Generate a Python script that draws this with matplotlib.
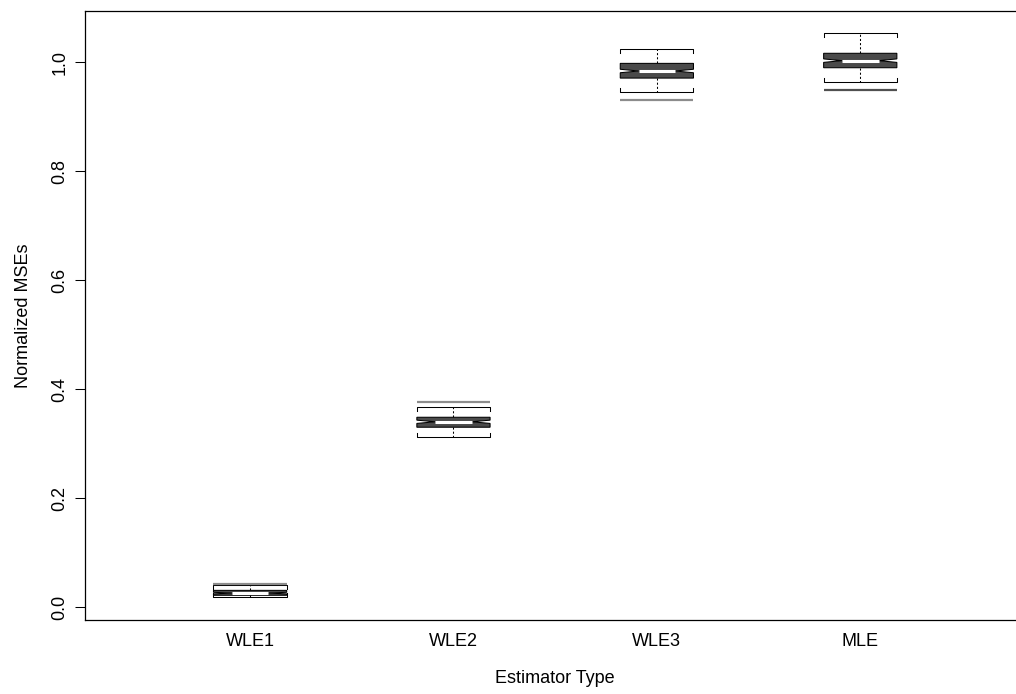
import matplotlib
matplotlib.use("Agg")
import matplotlib.pyplot as plt
from matplotlib.patches import Polygon

plt.rcParams['font.family'] = ['Liberation Sans', 'DejaVu Sans']

categories = ["WLE1", "WLE2", "WLE3", "MLE"]
lower_whisker = [0.0185, 0.3127, 0.946, 0.963]
q1 = [0.0215, 0.330, 0.971, 0.990]
median = [0.0255, 0.340, 0.984, 1.003]
q3 = [0.0305, 0.3483, 0.998, 1.0165]
upper_whisker = [0.0400, 0.3677, 1.0244, 1.054]
notch_half = [0.0015, 0.003, 0.0032, 0.0032]
extra_line = [0.0417, 0.3758, 0.931, 0.949]
extra_color = ["#8c8c8c", "#8c8c8c", "#8c8c8c", "#505050"]
yticks = [0.0, 0.2, 0.4, 0.6, 0.8, 1.0]

W, H = 1016, 694
fig = plt.figure(figsize=(W / 100, H / 100), dpi=100)
ax = fig.add_axes([85 / W, (H - 620) / H, (1025 - 85) / W, (620 - 10.7) / H])

hw = 0.18
tick_len = 0.0075
for i, cat in enumerate(categories):
    x = i + 1
    nlo = median[i] - notch_half[i]
    nhi = median[i] + notch_half[i]
    xs = [x - hw, x + hw, x + hw, x + 0.5 * hw, x + hw, x + hw, x - hw, x - hw, x - 0.5 * hw, x - hw]
    ys = [q1[i], q1[i], nlo, median[i], nhi, q3[i], q3[i], nhi, median[i], nlo]
    ax.add_patch(Polygon(list(zip(xs, ys)), closed=True, facecolor="#4a4a4a",
                         edgecolor="black", lw=0.75, zorder=3))
    ax.plot([x - 0.5 * hw, x + 0.5 * hw], [median[i], median[i]], color="white",
            lw=2.2, solid_capstyle="butt", zorder=4)
    # whiskers
    ax.plot([x, x], [q3[i], upper_whisker[i]], color="black", lw=0.75,
            linestyle=(0, (2, 2)), zorder=2)
    ax.plot([x, x], [q1[i], lower_whisker[i]], color="black", lw=0.75,
            linestyle=(0, (2, 2)), zorder=2)
    # staples with end ticks
    u = upper_whisker[i]
    ax.plot([x - hw, x - hw, x + hw, x + hw], [u - tick_len, u, u, u - tick_len],
            color="black", lw=0.75, zorder=2)
    lo = lower_whisker[i]
    ax.plot([x - hw, x - hw, x + hw, x + hw], [lo + tick_len, lo, lo, lo + tick_len],
            color="black", lw=0.75, zorder=2)
    ax.plot([x - hw, x + hw], [extra_line[i], extra_line[i]], color=extra_color[i],
            lw=1.6, solid_capstyle="butt", zorder=2)

ax.set_xlim(0.1884, 4.81)
ax.set_ylim(-0.0239, 1.0947)
ax.set_xticks(range(1, len(categories) + 1))
ax.set_xticklabels(categories)
ax.set_yticks(yticks)
ax.set_yticklabels([f"{v:.1f}" for v in yticks], rotation=90, va="center")
ax.tick_params(axis="x", length=0, pad=9, labelsize=13)
ax.tick_params(axis="y", length=7, width=0.75, pad=5, labelsize=13)
for s in ax.spines.values():
    s.set_linewidth(0.9)
ax.set_xlabel("Estimator Type", fontsize=13, labelpad=15)
ax.set_ylabel("Normalized MSEs", fontsize=13, labelpad=14)

fig.savefig("out.png", dpi=100)
